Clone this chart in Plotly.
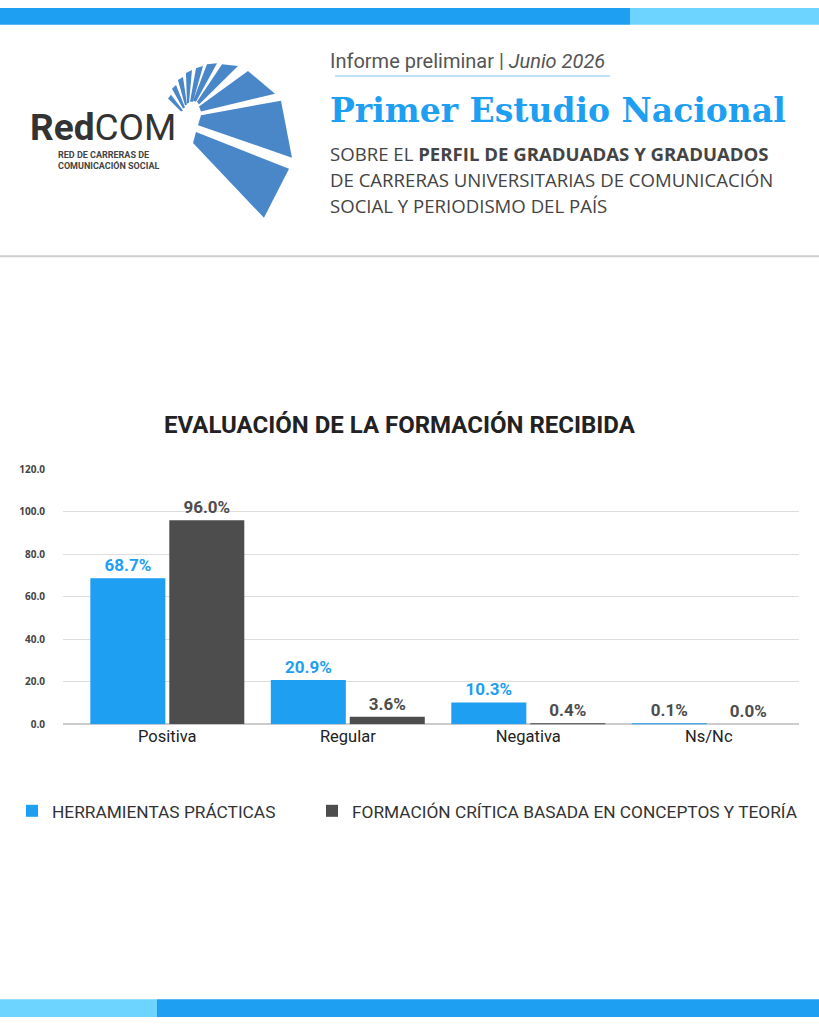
import plotly.graph_objects as go

W, H = 819, 1024

categories = ["Positiva", "Regular", "Negativa", "Ns/Nc"]
practicas = [68.7, 20.9, 10.3, 0.1]
critica = [96.0, 3.6, 0.4, 0.0]
series_names = ["HERRAMIENTAS PRÁCTICAS", "FORMACIÓN CRÍTICA BASADA EN CONCEPTOS Y TEORÍA"]
y_ticks = [0, 20, 40, 60, 80, 100, 120]

BLUE = "#1E9FF2"
LIGHT = "#6DD3FF"
GRAY = "#4D4D4D"
LOGO = "#4A87C8"
NARROW = "Roboto, sans-serif"


def px(x):
    return x / W


def py(y):
    return 1 - y / H


def poly(points):
    d = "M " + " L ".join(f"{px(x):.4f},{py(y):.4f}" for x, y in points) + " Z"
    return dict(type="path", xref="paper", yref="paper", path=d,
                fillcolor=LOGO, line=dict(width=0), layer="above")


fig = go.Figure()

fig.add_trace(go.Bar(
    x=categories, y=practicas, name=series_names[0], legend="legend",
    marker=dict(color=BLUE, line=dict(width=0)),
    text=[f"{v:.1f}%" for v in practicas], textposition="outside",
    textfont=dict(family=NARROW, size=17, color=[BLUE, BLUE, BLUE, GRAY], weight="bold"),
    cliponaxis=False,
))
fig.add_trace(go.Bar(
    x=categories, y=critica, name=series_names[1], legend="legend2",
    marker=dict(color=GRAY, line=dict(width=0)),
    text=[f"{v:.1f}%" for v in critica], textposition="outside",
    textfont=dict(family=NARROW, size=17, color=GRAY, weight="bold"),
    cliponaxis=False,
))

shapes = [
    # top and bottom colour bands
    dict(type="rect", xref="paper", yref="paper", x0=0, x1=px(630), y0=py(17), y1=1,
         fillcolor=BLUE, line=dict(width=0)),
    dict(type="rect", xref="paper", yref="paper", x0=px(630), x1=1, y0=py(17), y1=1,
         fillcolor=LIGHT, line=dict(width=0)),
    dict(type="rect", xref="paper", yref="paper", x0=0, x1=px(157), y0=0, y1=py(1006),
         fillcolor=LIGHT, line=dict(width=0)),
    dict(type="rect", xref="paper", yref="paper", x0=px(157), x1=1, y0=0, y1=py(1006),
         fillcolor=BLUE, line=dict(width=0)),
    # header separator and underline
    dict(type="line", xref="paper", yref="paper", x0=0, x1=1, y0=py(252), y1=py(252),
         line=dict(color="#cfcfcf", width=2)),
    dict(type="line", xref="paper", yref="paper", x0=px(335), x1=px(610), y0=py(69), y1=py(69),
         line=dict(color="#a8d8f5", width=1.5)),
    # logo fan
    poly([(196, 126), (289, 163), (264, 213), (193, 137)]),
    poly([(201, 109), (281, 94), (292, 152), (198, 119)]),
    poly([(199, 100), (248, 64), (275, 87), (201, 105)]),
    poly([(197, 95), (222, 57), (238, 59), (199, 98)]),
    poly([(193, 94), (207, 57), (217, 56), (196, 95)]),
    poly([(190, 95), (196, 61), (203, 59), (193, 95)]),
    poly([(187, 97), (186, 66), (192, 63), (189, 96)]),
    poly([(185, 99), (178, 73), (183, 70), (187, 98)]),
    poly([(183, 102), (172, 82), (176, 78), (185, 101)]),
    poly([(181, 105), (168, 92), (171, 88), (183, 104)]),
]

ann = []


def text(x, y, s, size, color, family="Roboto", xanchor="left", weight="normal"):
    ann.append(dict(xref="paper", yref="paper", x=px(x), y=py(y), text=s, showarrow=False,
                    xanchor=xanchor, yanchor="middle", align="left", borderpad=0,
                    font=dict(family=family, size=size, color=color, weight=weight)))


text(29, 121, "<b>Red</b>COM", 37, "#333333", family="Roboto")
text(57, 149, "RED DE CARRERAS DE", 9, "#444444", family=NARROW, weight="bold")
text(57, 160, "COMUNICACIÓN SOCIAL", 9, "#444444", family=NARROW, weight="bold")
text(329, 54, "Informe preliminar | <i>Junio 2026</i>", 20, "#555555", family=NARROW)
text(329, 104, "Primer Estudio Nacional", 33, BLUE, family="DejaVu Serif", weight="bold")
text(329, 148, "SOBRE EL <b>PERFIL DE GRADUADAS Y GRADUADOS</b>", 18.6, "#444444",
     family="Open Sans")
text(329, 174, "DE CARRERAS UNIVERSITARIAS DE COMUNICACIÓN", 18.6, "#444444",
     family="Open Sans")
text(329, 200, "SOCIAL Y PERIODISMO DEL PAÍS", 18.6, "#444444", family="Open Sans")
text(400, 423, "EVALUACIÓN DE LA FORMACIÓN RECIBIDA", 24, "#222222",
     family=NARROW, xanchor="center", weight="bold")

legend_font = dict(family="Roboto", size=17.3, color="#333333")

fig.update_layout(
    width=W, height=H,
    margin=dict(l=0, r=0, t=0, b=0),
    paper_bgcolor="white", plot_bgcolor="white",
    barmode="group", bargap=0.125, bargroupgap=0.05,
    shapes=shapes, annotations=ann,
    showlegend=True,
    legend=dict(orientation="h", x=px(12), y=py(815), xanchor="left", yanchor="middle",
                font=legend_font, bgcolor="rgba(0,0,0,0)"),
    legend2=dict(orientation="h", x=px(312), y=py(815), xanchor="left", yanchor="middle",
                 font=legend_font, bgcolor="rgba(0,0,0,0)"),
    xaxis=dict(domain=[px(63), px(799)], range=[-0.578, 3.5], showgrid=False,
               showline=False, ticks="",
               tickfont=dict(family=NARROW, size=16.5, color="#222222")),
    yaxis=dict(domain=[py(727), py(468)], range=[0, 120], tickvals=y_ticks,
               tickformat=".1f", showgrid=True, gridcolor="#dddddd", gridwidth=1,
               zeroline=True, zerolinecolor="#cccccc", zerolinewidth=1.5,
               ticklabelstandoff=17,
               tickfont=dict(family="Open Sans", size=10, color="#444444", weight="bold")),
)

fig.write_html("out.html", config={"displayModeBar": False},
               post_script="document.body.style.margin='0';")
